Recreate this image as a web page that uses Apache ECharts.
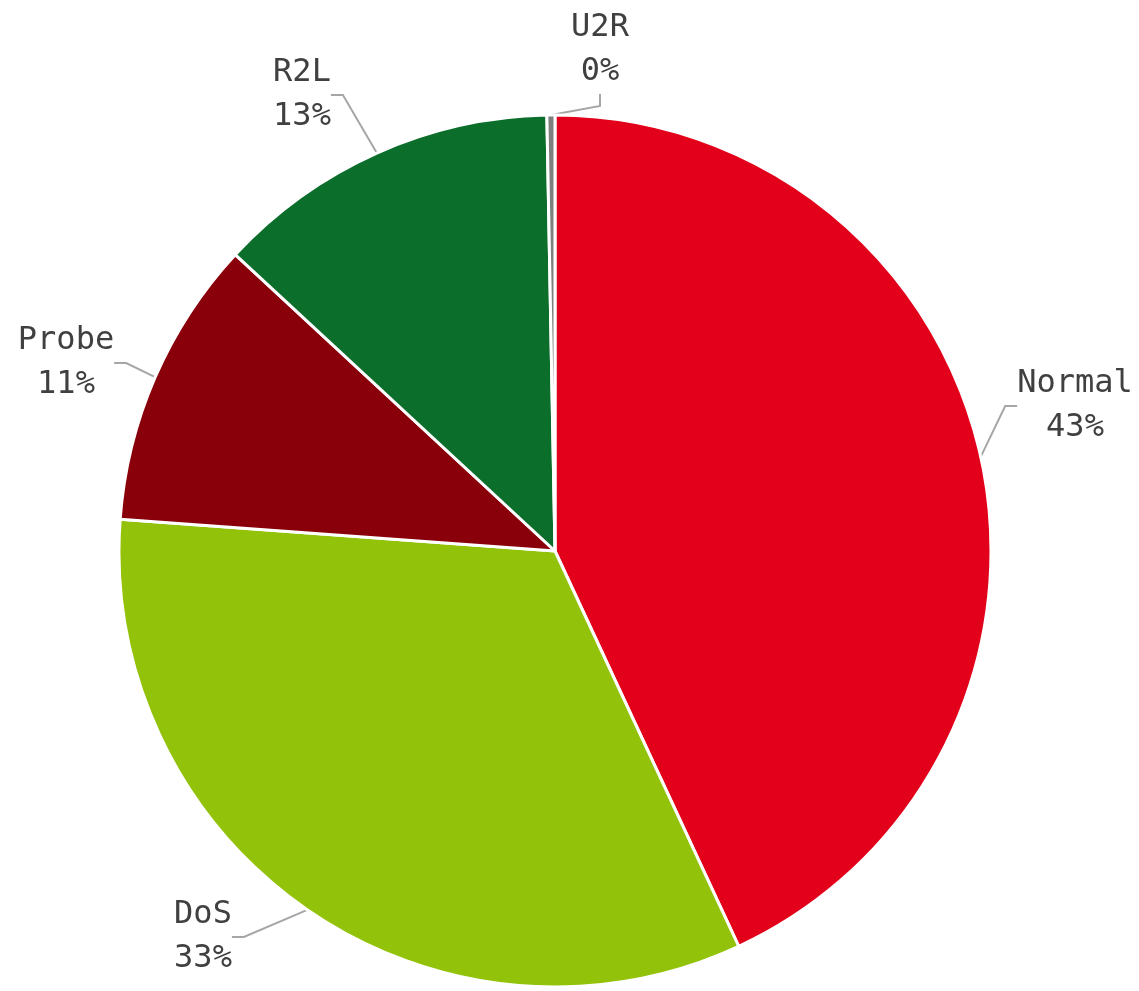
<!DOCTYPE html>
<html>
<head>
<meta charset="utf-8">
<script src="https://cdn.jsdelivr.net/npm/echarts@6/dist/echarts.min.js"></script>
<style>html,body{margin:0;padding:0;background:#fff;}#c{width:1139px;height:991px;}</style>
</head>
<body>
<div id="c"></div>
<script>
const categories = ['Normal', 'DoS', 'Probe', 'R2L', 'U2R'];
const values = [9711, 7458, 2421, 2887, 67];
const colors = ['#E2001A', '#93C20B', '#8A000A', '#0B6E2B', '#7F7F7F'];
// label centre positions (layout only)
const labelPos = [[1075, 406], [203, 937], [66, 363], [302, 95], [600, 50]];

const chart = echarts.init(document.getElementById('c'));
chart.setOption({
  animation: false,
  series: [{
    type: 'pie',
    center: [555, 551],
    radius: 436,
    startAngle: 90,
    clockwise: true,
    data: categories.map((n, i) => ({ name: n, value: values[i], itemStyle: { color: colors[i] } })),
    itemStyle: { borderColor: '#ffffff', borderWidth: 3 },
    label: {
      show: true,
      position: 'outside',
      fontFamily: '"DejaVu Sans Mono", "Liberation Mono", monospace',
      fontSize: 32,
      lineHeight: 44,
      color: '#404040',
      align: 'center',
      formatter: p => p.name + '\n' + Math.round(p.percent) + '%'
    },
    labelLine: { show: true, length: 15, length2: 12, lineStyle: { color: '#A6A6A6', width: 2 } },
    labelLayout: function (params) {
      const p = labelPos[params.dataIndex];
      return { x: p[0], y: p[1], align: 'center', verticalAlign: 'middle' };
    }
  }]
});
</script>
</body>
</html>
